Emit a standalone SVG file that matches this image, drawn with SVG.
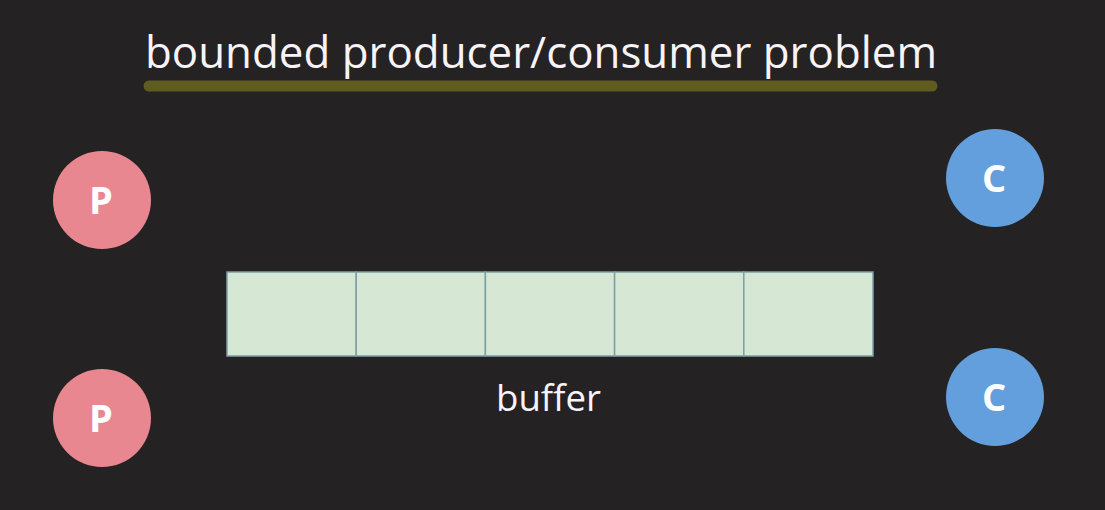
<svg xmlns="http://www.w3.org/2000/svg" width="1105" height="510" viewBox="0 0 1105 510">
<style>
.t{font-family:"Open Sans","Noto Sans","Liberation Sans",sans-serif;fill:#f7f3f7;font-weight:500}
.p{fill:#e8878f}
.c{fill:#629fdc}
.lbl{font-family:"Open Sans","Noto Sans","Liberation Sans",sans-serif;font-weight:bold;font-size:38px;fill:#ffffff;text-anchor:middle}
.cell{fill:#d6e8d4;stroke:#7d9fa6;stroke-width:1.5}
</style>
<rect width="1105" height="510" fill="#252224"/>
<g id="title">
<text class="t" x="145" y="68" font-size="44" textLength="792" lengthAdjust="spacingAndGlyphs">bounded producer/consumer problem</text>
<line x1="149" y1="86" x2="932" y2="86" stroke="#5e5c1f" stroke-width="11" stroke-linecap="round"/>
</g>
<g id="P1"><circle class="p" cx="102" cy="200" r="49"/><text class="lbl" x="101" y="214">P</text></g>
<g id="P2"><circle class="p" cx="102" cy="418" r="49"/><text class="lbl" x="101" y="432">P</text></g>
<g id="C1"><circle class="c" cx="995" cy="178" r="49"/><text class="lbl" x="994" y="192">C</text></g>
<g id="C2"><circle class="c" cx="995" cy="397" r="49"/><text class="lbl" x="994" y="411">C</text></g>
<g id="buffer">
<rect class="cell" x="227" y="272" width="129.2" height="84"/>
<rect class="cell" x="356.2" y="272" width="129.2" height="84"/>
<rect class="cell" x="485.4" y="272" width="129.2" height="84"/>
<rect class="cell" x="614.6" y="272" width="129.2" height="84"/>
<rect class="cell" x="743.8" y="272" width="129.2" height="84"/>
<text class="t" x="496" y="411" font-size="36" textLength="105" lengthAdjust="spacingAndGlyphs">buffer</text>
</g>
<g id="connectors"></g>
</svg>
